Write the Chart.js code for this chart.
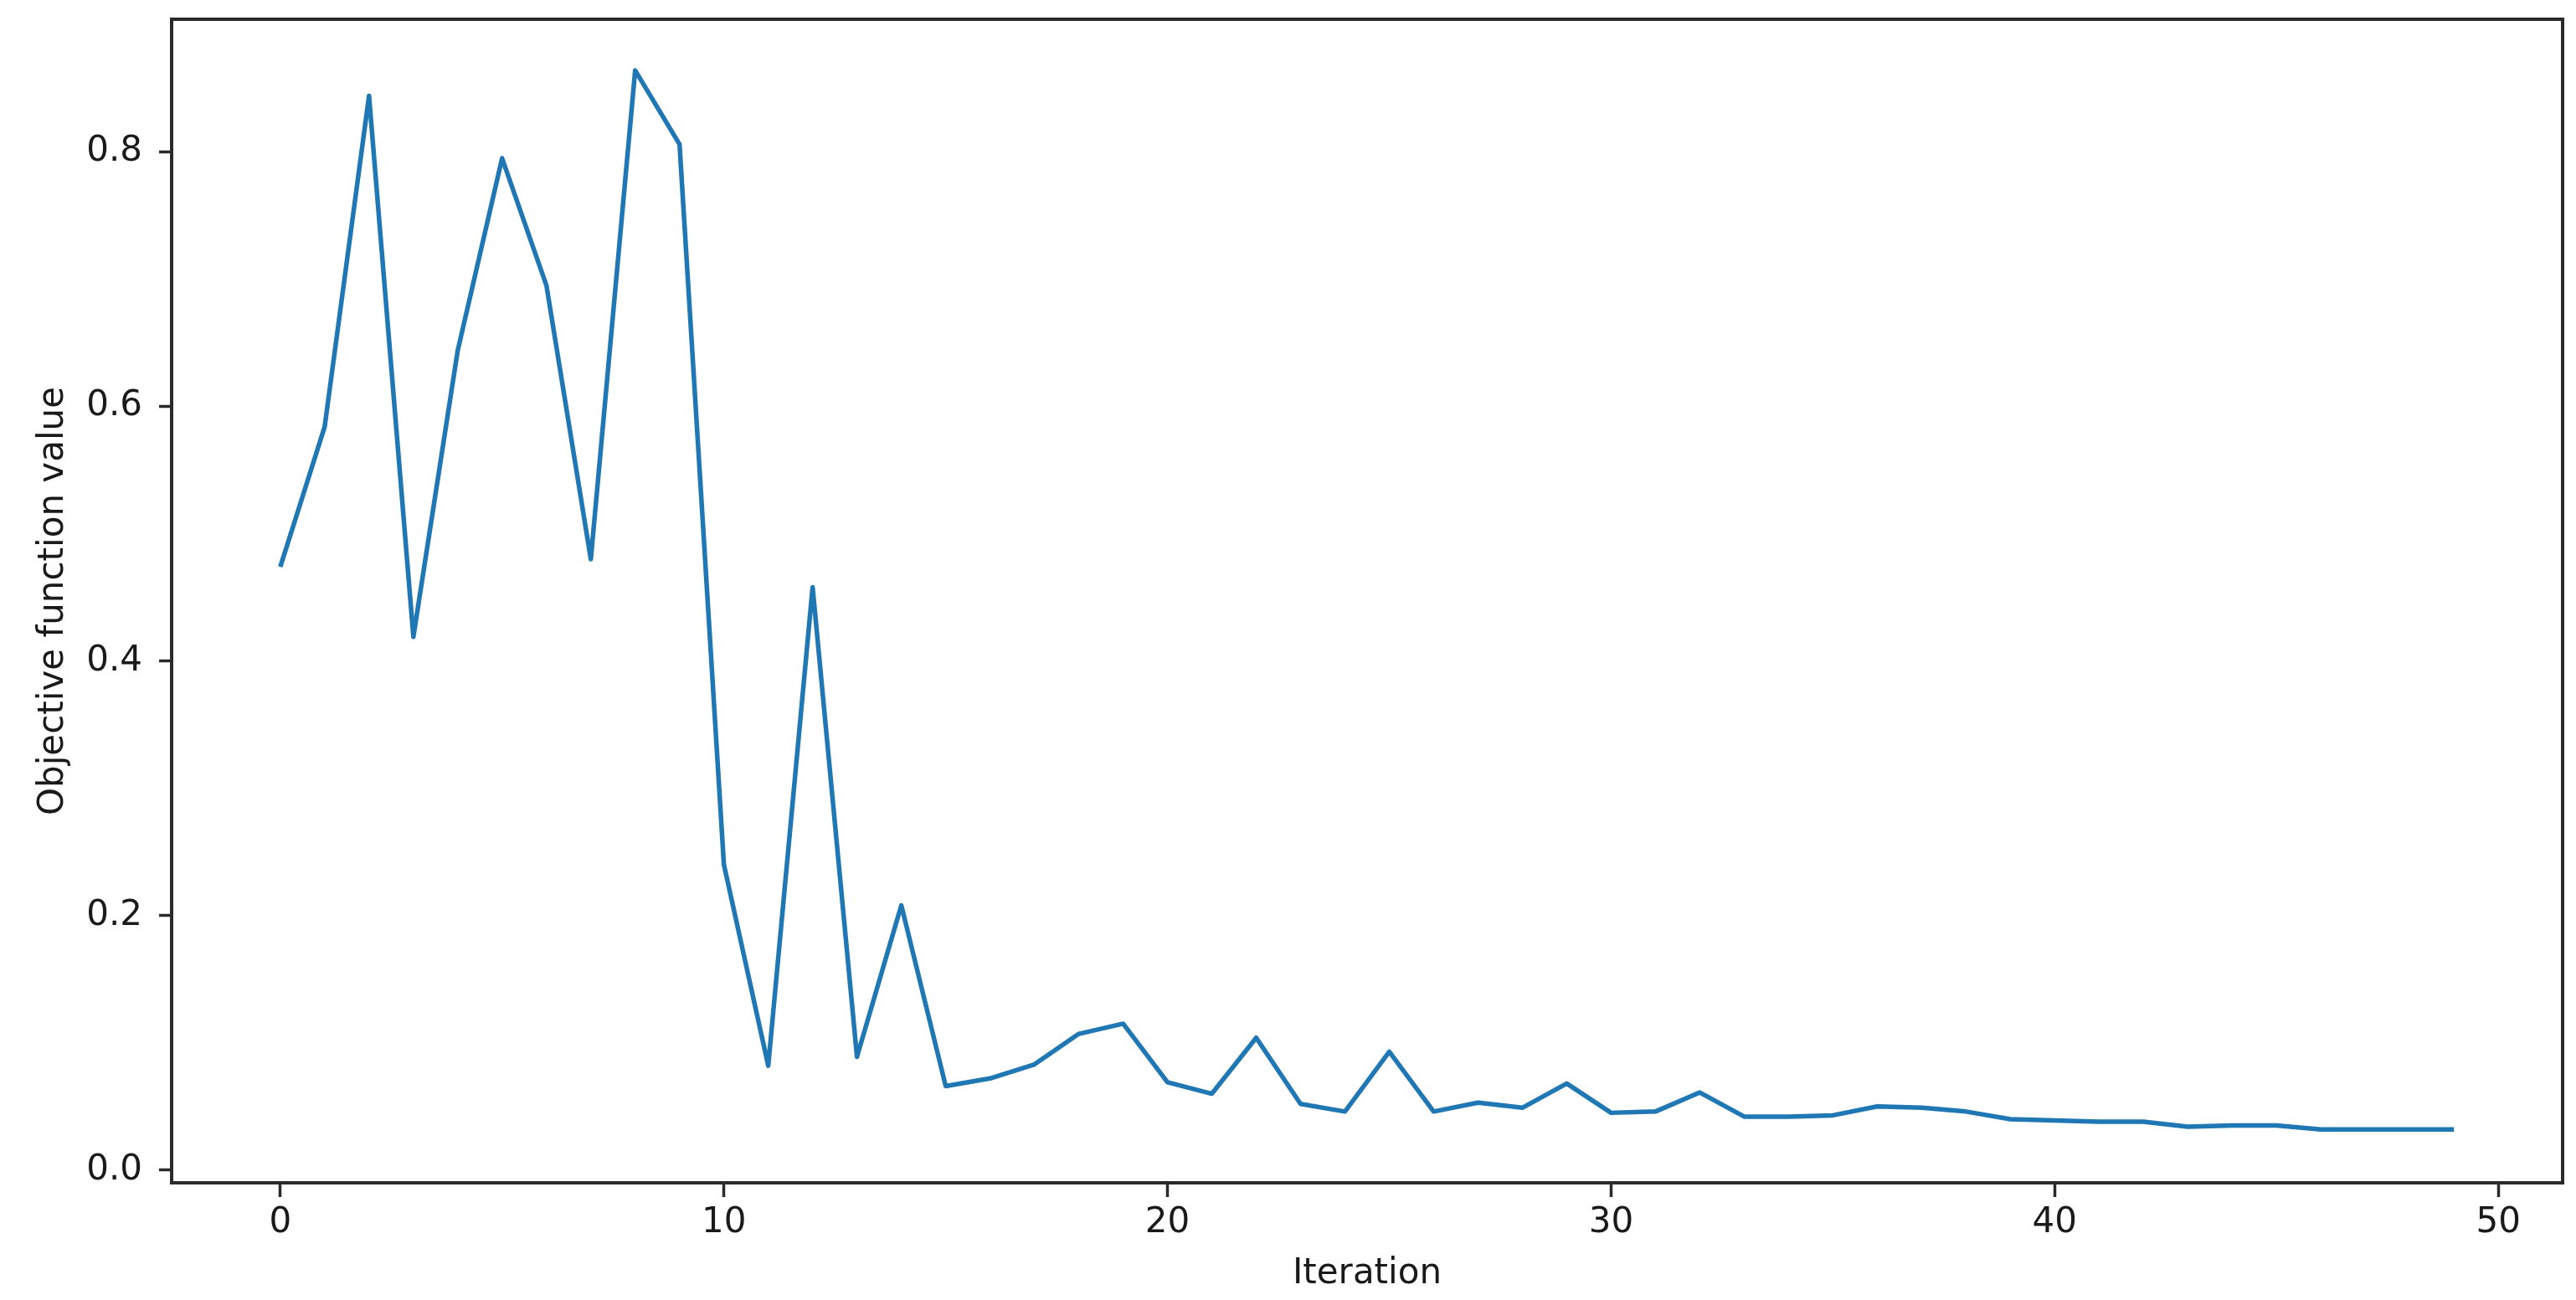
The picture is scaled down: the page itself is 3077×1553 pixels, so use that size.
<!DOCTYPE html>
<html>
<head>
<meta charset="utf-8">
<script src="https://cdn.jsdelivr.net/npm/chart.js@4.4.1/dist/chart.umd.min.js"></script>
<style>
  html, body { margin: 0; padding: 0; background: #fff; }
  #wrap { width: 3077px; height: 1553px; }
</style>
</head>
<body>
<div id="wrap"><canvas id="chart" width="3077" height="1553"></canvas></div>
<script>
// values
const iterations = [0, 1, 2, 3, 4, 5, 6, 7, 8, 9, 10, 11, 12, 13, 14, 15, 16, 17, 18, 19,
  20, 21, 22, 23, 24, 25, 26, 27, 28, 29, 30, 31, 32, 33, 34, 35, 36, 37, 38, 39,
  40, 41, 42, 43, 44, 45, 46, 47, 48, 49];
const objectiveValues = [0.474, 0.584, 0.844, 0.419, 0.644, 0.795, 0.695, 0.480, 0.864, 0.806,
  0.240, 0.082, 0.458, 0.089, 0.208, 0.066, 0.072, 0.083, 0.107, 0.115,
  0.069, 0.060, 0.104, 0.052, 0.046, 0.093, 0.046, 0.053, 0.049, 0.068,
  0.045, 0.046, 0.061, 0.042, 0.042, 0.043, 0.050, 0.049, 0.046, 0.040,
  0.039, 0.038, 0.038, 0.034, 0.035, 0.035, 0.032, 0.032, 0.032, 0.032];
const xTicks = [0, 10, 20, 30, 40, 50];
const yTicks = [0.0, 0.2, 0.4, 0.6, 0.8];

const font = { family: 'DejaVu Sans', size: 42 };

// matplotlib-style box around the axes
const frame = {
  id: 'frame',
  afterDatasetsDraw(chart) {
    const { ctx, chartArea: a } = chart;
    ctx.save();
    ctx.strokeStyle = '#2a2a2a';
    ctx.lineWidth = 4;
    ctx.strokeRect(a.left, a.top, a.right - a.left, a.bottom - a.top);
    ctx.restore();
  }
};

new Chart(document.getElementById('chart'), {
  type: 'line',
  data: {
    datasets: [{
      data: iterations.map((x, i) => ({ x: x, y: objectiveValues[i] })),
      borderColor: '#1f77b4',
      borderWidth: 5.5,
      borderJoinStyle: 'round',
      borderCapStyle: 'butt',
      pointRadius: 0,
      tension: 0,
      fill: false
    }]
  },
  options: {
    responsive: false,
    animation: false,
    layout: { padding: { top: 23, right: 16, left: 0, bottom: 0 } },
    plugins: {
      legend: { display: false },
      tooltip: { enabled: false }
    },
    scales: {
      x: {
        type: 'linear',
        min: -2.45,
        max: 51.45,
        afterBuildTicks: s => { s.ticks = xTicks.map(v => ({ value: v })); },
        afterFit: s => { s.height = 140; s.paddingLeft = 0; s.paddingRight = 0; },
        border: { display: false },
        grid: { drawOnChartArea: false, drawTicks: true, tickLength: 17, tickWidth: 3.5, tickColor: '#2a2a2a' },
        ticks: { color: '#1a1a1a', font: font, padding: 6, maxRotation: 0, callback: v => String(v) },
        title: { display: true, text: 'Iteration', color: '#1a1a1a', font: font, padding: { top: 0, bottom: 6 } }
      },
      y: {
        min: -0.0100,
        max: 0.9042,
        afterBuildTicks: s => { s.ticks = yTicks.map(v => ({ value: v })); },
        afterFit: s => { s.width = 205; s.paddingTop = 0; s.paddingBottom = 0; },
        border: { display: false },
        grid: { drawOnChartArea: false, drawTicks: true, tickLength: 15, tickWidth: 3.5, tickColor: '#2a2a2a' },
        ticks: { color: '#1a1a1a', font: font, padding: 20, callback: v => v.toFixed(1) },
        title: { display: true, text: 'Objective function value', color: '#1a1a1a', font: font, padding: { top: 39, bottom: 0 } }
      }
    }
  },
  plugins: [frame]
});
</script>
</body>
</html>
